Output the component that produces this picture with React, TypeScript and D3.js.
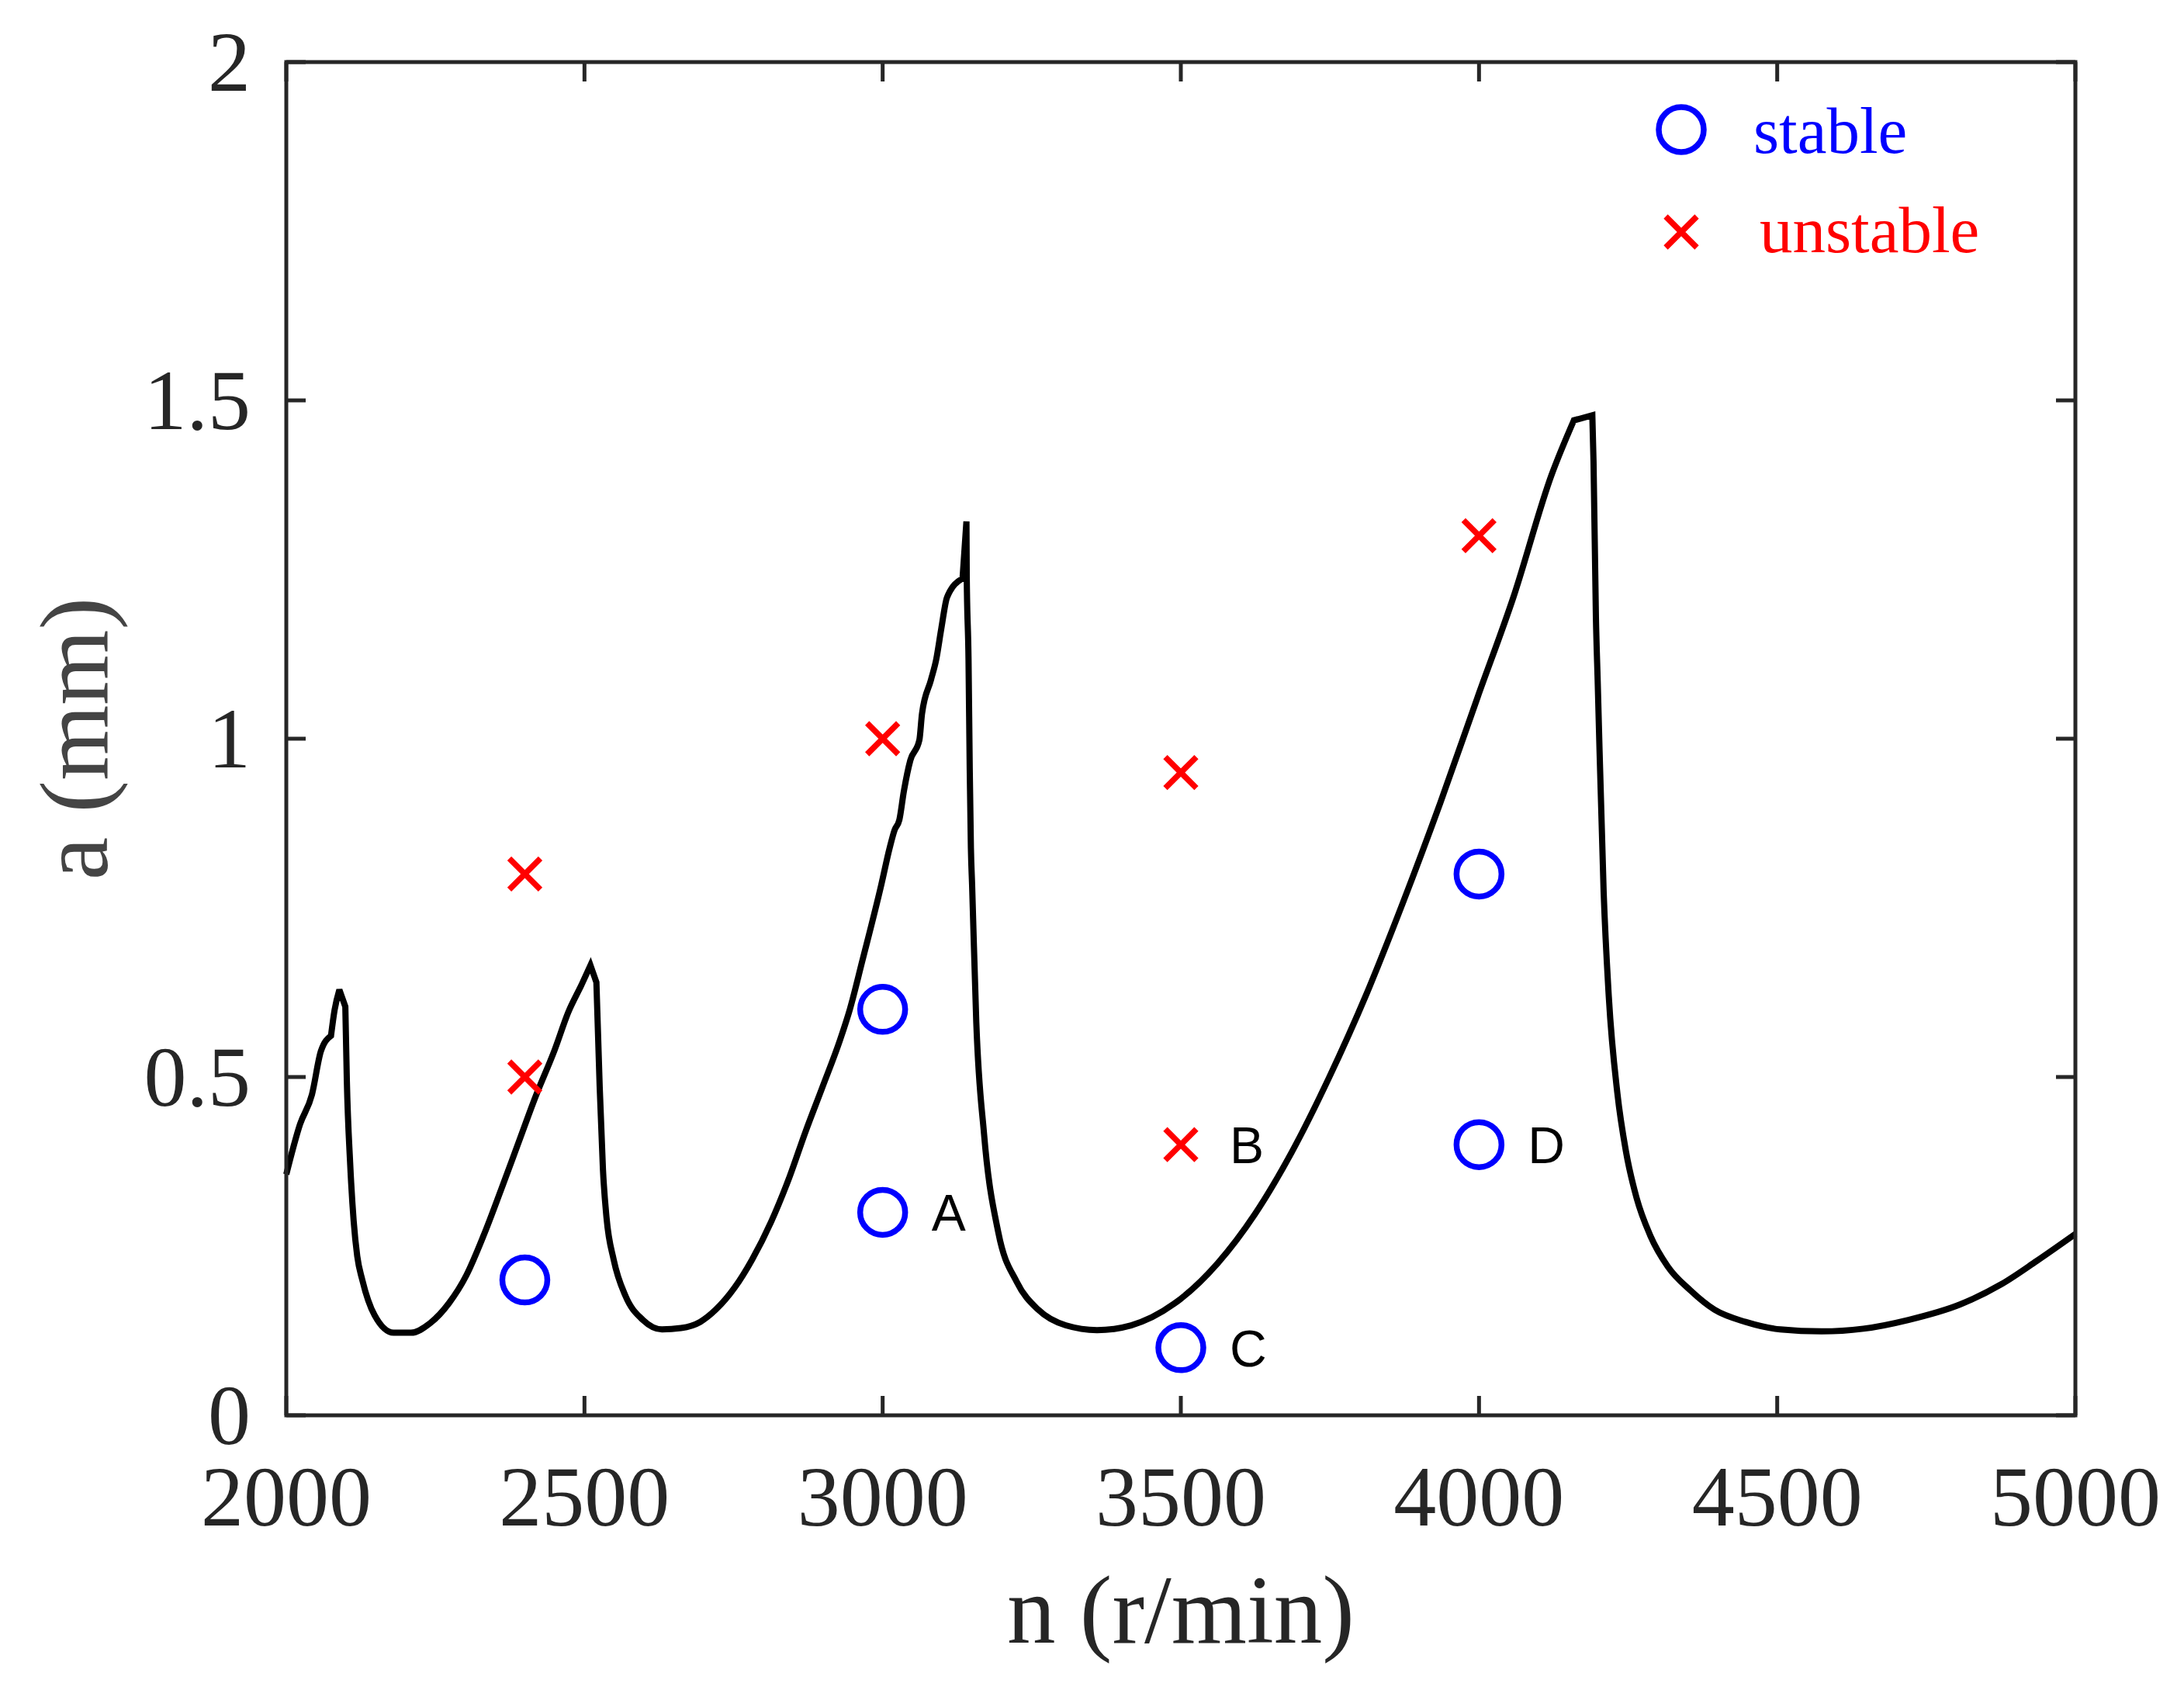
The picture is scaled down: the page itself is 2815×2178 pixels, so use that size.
import React from "react";
import * as d3 from "d3";

// ---- data ----
const curveN = [
  2000, 2023, 2043, 2058, 2075, 2081, 2089, 2099, 2101.5, 2107, 2113, 2119, 2127.5, 2148, 2180, 2209,
  2241, 2273, 2302, 2331, 2360, 2389, 2418, 2450, 2473, 2496, 2510, 2520, 2525.5, 2531, 2537, 2549,
  2569, 2598, 2630, 2662, 2694, 2720, 2752, 2781, 2813, 2842, 2871, 2899, 2929, 2945, 2966, 2997.7,
  3011.6, 3020, 3028, 3035.5, 3046.4, 3061.6, 3066, 3081, 3089.8, 3098.4, 3108, 3134, 3140.5, 3141,
  3144, 3146, 3148, 3150, 3157, 3170, 3194, 3225, 3261, 3307, 3359.5, 3416.7, 3489, 3562, 3624, 3686,
  3748.5, 3811, 3873, 3935, 3997.5, 4058, 4121.7, 4159, 4190, 4192, 4196, 4199, 4209, 4217.6, 4232,
  4246.6, 4264, 4287, 4316.5, 4354, 4395, 4447, 4505, 4574.5, 4644.5, 4720, 4807, 4876.5, 4935, 5000,
];
const curveA = [
  0.356, 0.43, 0.474, 0.538, 0.561, 0.599, 0.629, 0.604, 0.496, 0.374, 0.287, 0.235, 0.2, 0.148, 0.122, 0.122,
  0.136, 0.166, 0.207, 0.266, 0.333, 0.402, 0.471, 0.54, 0.596, 0.638, 0.665, 0.64, 0.486, 0.363, 0.292, 0.23,
  0.176, 0.141, 0.127, 0.129, 0.138, 0.156, 0.189, 0.23, 0.286, 0.348, 0.42, 0.485, 0.556, 0.6, 0.672, 0.784,
  0.838, 0.865, 0.88, 0.922, 0.968, 0.998, 1.037, 1.087, 1.117, 1.163, 1.209, 1.237, 1.321, 1.24,
  1.117, 0.956, 0.838, 0.784, 0.581, 0.416, 0.27, 0.197, 0.156, 0.133, 0.126, 0.133, 0.165, 0.225, 0.297, 0.389,
  0.499, 0.622, 0.759, 0.905, 1.061, 1.21, 1.39, 1.4705, 1.478, 1.41, 1.18, 1.085, 0.773, 0.619, 0.476,
  0.389, 0.322, 0.266, 0.22, 0.185, 0.156, 0.138, 0.127, 0.124, 0.128, 0.141, 0.164, 0.194, 0.228, 0.268,
];
// n values where the curve has a sharp corner (spike tips)
const cornerN = [2075, 2089, 2099, 2510, 2520, 3134, 3140.5, 4159, 4190];

const stableN = [2400, 3000, 3000, 3500, 4000, 4000];
const stableA = [0.2, 0.6, 0.3, 0.1, 0.8, 0.4];
const stableLabel = ["", "", "A", "C", "", "D"];

const unstableN = [2400, 2400, 3000, 3500, 3500, 4000];
const unstableA = [0.8, 0.5, 1.0, 0.95, 0.4, 1.3];
const unstableLabel = ["", "", "", "", "B", ""];

const xTicks = [2000, 2500, 3000, 3500, 4000, 4500, 5000];
const yTicks = [0, 0.5, 1, 1.5, 2];
const yTickLabels = ["0", "0.5", "1", "1.5", "2"];

const xTitle = "n (r/min)";
const yTitle = "a (mm)";
const legendLabels = ["stable", "unstable"];

// ---- layout ----
const W = 2815;
const H = 2178;
const L = 369, R = 2675, T = 80, B = 1824;
const AX = "#262626";
const SERIF = "'Liberation Serif', 'Times New Roman', serif";
const SANS = "'Liberation Sans', Arial, sans-serif";

export default function App() {
  const x = d3.scaleLinear().domain([2000, 5000]).range([L, R]);
  const y = d3.scaleLinear().domain([0, 2]).range([B, T]);

  const pts: [number, number][] = curveN.map((n, i) => [n, curveA[i]]);
  const line = d3
    .line<[number, number]>()
    .x((d) => x(d[0]))
    .y((d) => y(d[1]))
    .curve(d3.curveMonotoneX);

  // split into smooth segments at the sharp corners, then join into one path
  const segs: [number, number][][] = [];
  let cur: [number, number][] = [];
  pts.forEach((p) => {
    cur.push(p);
    if (cornerN.includes(p[0])) {
      segs.push(cur);
      cur = [p];
    }
  });
  if (cur.length > 1) segs.push(cur);
  const curveD = segs
    .map((s, i) => {
      const d = line(s) || "";
      return i === 0 ? d : d.replace(/^M[-\d.e,\s]+/, "");
    })
    .join("");

  const tickLen = 25;
  const r = 29;
  const xs = 20;
  const mw = 7.5;

  const cross = (cx: number, cy: number, key: string, s = xs) => (
    <path
      key={key}
      d={`M${cx - s},${cy - s}L${cx + s},${cy + s}M${cx - s},${cy + s}L${cx + s},${cy - s}`}
      stroke="#ff0000"
      strokeWidth={mw}
      fill="none"
    />
  );

  return (
    <svg
      width={W}
      height={H}
      viewBox={`0 0 ${W} ${H}`}
      style={{ position: "absolute", left: 0, top: 0, background: "#fff" }}
    >
      <rect x={0} y={0} width={W} height={H} fill="#fff" />

      {/* curve */}
      <path d={curveD} fill="none" stroke="#000" strokeWidth={8} strokeLinejoin="miter" strokeMiterlimit={3} />

      {/* axes box */}
      <rect x={L} y={T} width={R - L} height={B - T} fill="none" stroke={AX} strokeWidth={5} />

      {/* x ticks */}
      {xTicks.map((t) => (
        <g key={"xt" + t}>
          <line x1={x(t)} x2={x(t)} y1={B} y2={B - tickLen} stroke={AX} strokeWidth={5} />
          <line x1={x(t)} x2={x(t)} y1={T} y2={T + tickLen} stroke={AX} strokeWidth={5} />
          <text x={x(t)} y={1966} textAnchor="middle" fontFamily={SERIF} fontSize={110} fill={AX}>
            {t}
          </text>
        </g>
      ))}

      {/* y ticks */}
      {yTicks.map((t, i) => (
        <g key={"yt" + t}>
          <line x1={L} x2={L + tickLen} y1={y(t)} y2={y(t)} stroke={AX} strokeWidth={5} />
          <line x1={R} x2={R - tickLen} y1={y(t)} y2={y(t)} stroke={AX} strokeWidth={5} />
          <text x={323} y={y(t) + 37} textAnchor="end" fontFamily={SERIF} fontSize={110} fill={AX}>
            {yTickLabels[i]}
          </text>
        </g>
      ))}

      {/* axis titles */}
      <text x={(L + R) / 2} y={2117} textAnchor="middle" fontFamily={SERIF} fontSize={125} fill={AX}>
        {xTitle}
      </text>
      <text
        transform={`translate(138, ${(T + B) / 2}) rotate(-90)`}
        textAnchor="middle"
        fontFamily={SERIF}
        fontSize={125}
        fill="#444444"
      >
        {yTitle}
      </text>

      {/* stable markers */}
      {stableN.map((n, i) => (
        <g key={"s" + i}>
          <circle cx={x(n)} cy={y(stableA[i])} r={r} fill="none" stroke="#0000ff" strokeWidth={mw} />
          {stableLabel[i] && (
            <text x={x(n) + 63} y={y(stableA[i]) + 24} fontFamily={SANS} fontSize={66} fill="#000">
              {stableLabel[i]}
            </text>
          )}
        </g>
      ))}

      {/* unstable markers */}
      {unstableN.map((n, i) => (
        <g key={"u" + i}>
          {cross(x(n), y(unstableA[i]), "c" + i)}
          {unstableLabel[i] && (
            <text x={x(n) + 63} y={y(unstableA[i]) + 24} fontFamily={SANS} fontSize={66} fill="#000">
              {unstableLabel[i]}
            </text>
          )}
        </g>
      ))}

      {/* legend */}
      <circle cx={2167} cy={167} r={r} fill="none" stroke="#0000ff" strokeWidth={mw} />
      <text x={2260} y={197} fontFamily={SERIF} fontSize={85} fill="#0000ff">
        {legendLabels[0]}
      </text>
      {cross(2167, 299, "leg")}
      <text x={2268} y={325} fontFamily={SERIF} fontSize={85} fill="#ff0000">
        {legendLabels[1]}
      </text>
    </svg>
  );
}
